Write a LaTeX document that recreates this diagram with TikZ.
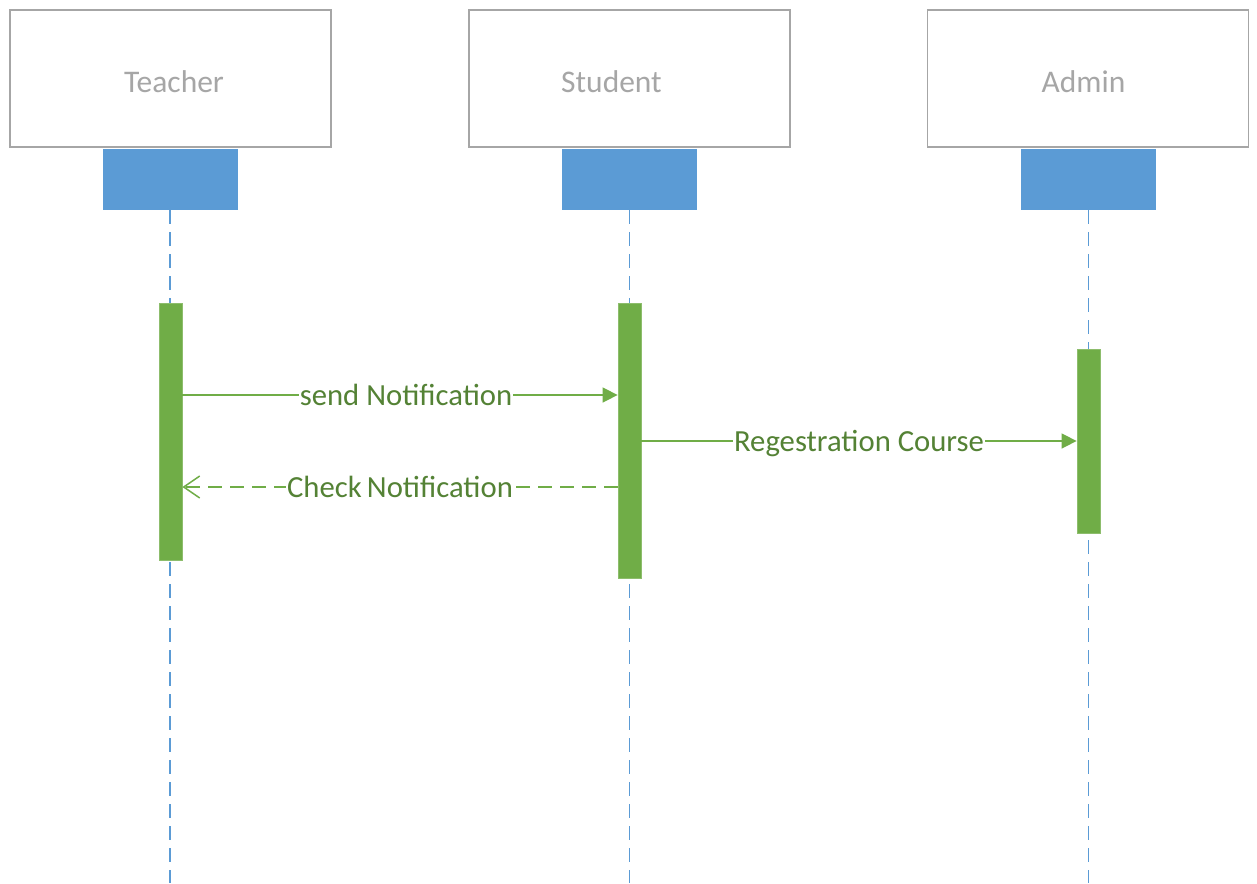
\documentclass[tikz,border=0pt]{standalone}
\usepackage{fontspec}
\setmainfont{Carlito}
\usetikzlibrary{arrows.meta}
\definecolor{boxgray}{HTML}{A6A6A6}
\definecolor{lblue}{HTML}{5B9BD5}
\definecolor{lgreen}{HTML}{70AD47}
\definecolor{dgreen}{HTML}{548235}
\tikzset{
  actor/.style={draw=boxgray, line width=1.5pt, fill=white, minimum width=321pt, minimum height=137pt, inner sep=0pt},
  actorlbl/.style={text=boxgray, inner sep=0pt, font=\fontsize{31.5}{36}\selectfont},
  head/.style={fill=lblue, draw=white, line width=0.8pt, minimum width=136pt, minimum height=62pt, inner sep=0pt},
  lifeline/.style={draw=lblue, line width=1.6pt, dash pattern=on 14pt off 8pt},
  act/.style={fill=lgreen, draw=lgreen!80!white, line width=0.8pt, minimum width=23pt, inner sep=0pt},
  msg/.style={draw=lgreen, line width=1.5pt},
  lbl/.style={fill=white, text=dgreen, inner sep=1pt, text height=21.5pt, text depth=0pt, font=\fontsize{30.7}{36}\selectfont},
}
\begin{document}
\begin{tikzpicture}[x=1pt,y=-1pt]
\useasboundingbox[fill=white] (0,0) rectangle (1257,883);
% actors
\node[actor] (teacher) at (170.5,78.5) {};
\node[actor] (student) at (629.5,78.5) {};
\node[actor] (admin) at (1088,78.5) {};
\node[actorlbl] (tl) at (174,82) {Teacher};
\node[actorlbl] (sl) at (611.5,82) {Student};
\node[actorlbl] (al) at (1083.5,82) {Admin};
\node[head] (th) at (170,179) {};
\node[head] (sh) at (629.5,179) {};
\node[head] (ah) at (1088.5,179) {};
\coordinate (tend) at (170,883);
\coordinate (send) at (629.5,883);
\coordinate (aend) at (1088.5,883);
\draw[lifeline] (th.south) -- (tend);
\draw[lifeline] (sh.south) -- (send);
\draw[lifeline] (ah.south) -- (aend);
% activations
\node[act, minimum height=257pt] (ta) at (170.5,431.5) {};
\node[act, minimum height=275pt] (sa) at (629.5,440.5) {};
\node[act, minimum height=184pt] (aa) at (1088.5,441) {};
% messages
\draw[msg, -{Triangle[length=15pt,width=15pt]}] (ta.east |- 0,395) -- node[lbl, xshift=6pt] {send Notification} (sa.west |- 0,395);
\draw[msg, -{Triangle[length=15pt,width=15pt]}] (sa.east |- 0,441) -- node[lbl] {Regestration Course} (aa.west |- 0,441);
\draw[msg, dash pattern=on 14pt off 8pt, -{Straight Barb[length=16pt,width=22pt,line width=1.5pt]}] (sa.west |- 0,487) -- node[lbl] {Check\,Notification} (ta.east |- 0,487);
\end{tikzpicture}
\end{document}
